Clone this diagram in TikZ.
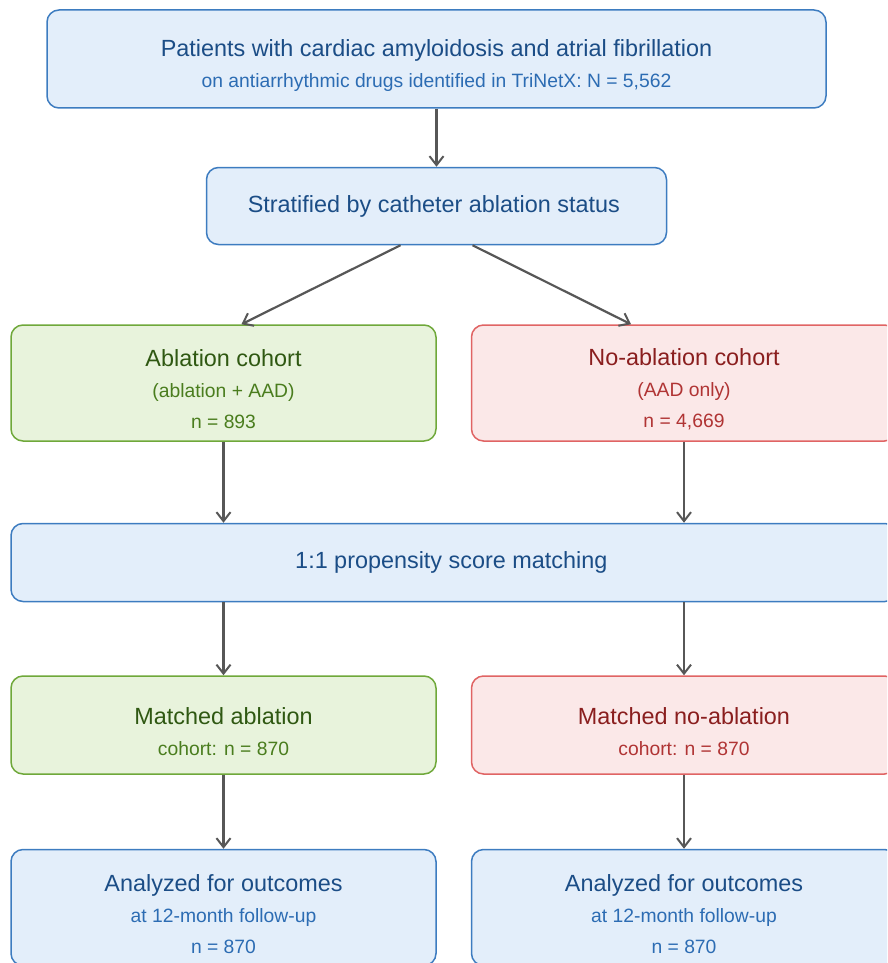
\documentclass[tikz,border=0pt]{standalone}
\usepackage{fontspec}
\setmainfont{Liberation Sans}
\usepackage{tikz}
\usetikzlibrary{positioning, arrows.meta, calc}

\definecolor{bluefill}{HTML}{E3EEFA}
\definecolor{blueline}{HTML}{3D7CC0}
\definecolor{bluehead}{HTML}{1B4D86}
\definecolor{bluesub}{HTML}{2C6CB3}
\definecolor{greenfill}{HTML}{E8F3DC}
\definecolor{greenline}{HTML}{6FA83A}
\definecolor{greenhead}{HTML}{2F5812}
\definecolor{greensub}{HTML}{4A7D1E}
\definecolor{redfill}{HTML}{FBE8E8}
\definecolor{redline}{HTML}{E06464}
\definecolor{redhead}{HTML}{8A1E1E}
\definecolor{redsub}{HTML}{B03434}
\definecolor{arrowgray}{HTML}{575757}

\newcommand{\hd}{\fontsize{23.4}{31}\selectfont}
\newcommand{\sub}{\fontsize{19.3}{31}\selectfont}
\newcommand{\lead}{\rule{0pt}{30pt}}

\begin{document}
\begin{tikzpicture}[
			x=1pt, y=1pt,
			>={Straight Barb[length=9pt, width=14pt, line width=2pt]},
			box/.style={
				line width=1.5pt, rounded corners=12pt, inner sep=0pt,
				align=center, minimum width=425pt, minimum height=116pt,
				font=\sub
			},
			bluebox/.style={box, draw=blueline, fill=bluefill},
			greenbox/.style={box, draw=greenline, fill=greenfill},
			redbox/.style={box, draw=redline, fill=redfill},
			flow/.style={->, line width=2.2pt, draw=arrowgray}
			]
			\useasboundingbox (0,0) rectangle (887,-963);
			\clip (0,0) rectangle (887,-963);
			
			% 1. SOURCE POPULATION (Top)
			\node[bluebox, minimum width=779pt, minimum height=98pt] (source) at (436.5,-59) {
				{\hd\lead\color{bluehead}Patients with cardiac amyloidosis and atrial fibrillation}\\
				{\color{bluesub}on antiarrhythmic drugs identified in TriNetX: N = 5,562}
			};
			\node[bluebox, minimum width=460pt, minimum height=77pt, below=58pt of source] (strat) {
				{\hd\color{bluehead}Stratified by catheter ablation status}
			};
			\draw[flow] (source) -- (strat);
			
			% 2. COHORTS (Left / Right)
			\node[greenbox] (abl) at (223.5,-383) {
				{\hd\lead\color{greenhead}Ablation cohort}\\
				{\color{greensub}(ablation + AAD)}\\
				{\color{greensub}n = 893}
			};
			\node[redbox, right=34pt of abl] (noabl) {
				{\hd\lead\color{redhead}No-ablation cohort}\\
				{\color{redsub}(AAD only)}\\
				{\color{redsub}n = 4,669}
			};
			\draw[flow] ([xshift=-36pt]strat.south) -- ([xshift=18pt]abl.north);
			\draw[flow] ([xshift=36pt]strat.south) -- ([xshift=-53pt]noabl.north);
			
			% 3. MATCHING (Middle)
			\node[bluebox, minimum width=886pt, minimum height=78pt, below=81pt of abl.south west, anchor=north west] (match) {
				{\hd\color{bluehead}1:1 propensity score matching}
			};
			\draw[flow] (abl) -- (abl |- match.north);
			\draw[flow] (noabl) -- (noabl |- match.north);
			
			% 4. MATCHED COHORTS
			\node[greenbox, minimum height=98pt, anchor=north] (mabl) at ([yshift=-73pt]abl |- match.south) {
				{\hd\lead\color{greenhead}Matched ablation}\\
				{\color{greensub}cohort: n = 870}
			};
			\node[redbox, minimum height=98pt, right=34pt of mabl] (mnoabl) {
				{\hd\lead\color{redhead}Matched no-ablation}\\
				{\color{redsub}cohort: n = 870}
			};
			\draw[flow] (abl |- match.south) -- (mabl);
			\draw[flow] (noabl |- match.south) -- (mnoabl);
			
			% 5. OUTCOMES (Bottom)
			\node[bluebox, below=74pt of mabl] (outabl) {
				{\hd\lead\color{bluehead}Analyzed for outcomes}\\
				{\color{bluesub}at 12-month follow-up}\\
				{\color{bluesub}n = 870}
			};
			\node[bluebox, right=34pt of outabl] (outnoabl) {
				{\hd\lead\color{bluehead}Analyzed for outcomes}\\
				{\color{bluesub}at 12-month follow-up}\\
				{\color{bluesub}n = 870}
			};
			\draw[flow] (mabl) -- (outabl);
			\draw[flow] (mnoabl) -- (outnoabl);
		\end{tikzpicture}
\end{document}
